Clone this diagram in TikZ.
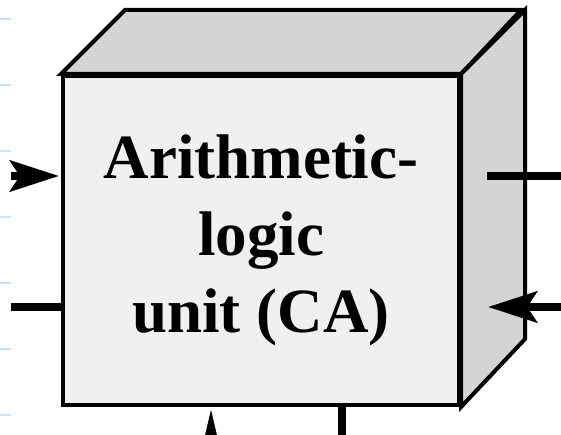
\documentclass[tikz,border=0pt]{standalone}
\usepackage{fontspec}
\setmainfont{Liberation Serif}
\usetikzlibrary{arrows.meta}
\definecolor{facelight}{gray}{0.94}
\definecolor{faceside}{gray}{0.83}
\definecolor{ruleblue}{RGB}{200,228,248}

\begin{document}
\begin{tikzpicture}[
  x=1pt, y=1pt,
  front/.style={draw, line width=4pt, line join=miter, fill=facelight,
                minimum width=396pt, minimum height=329pt, inner sep=0pt,
                align=center, font=\bfseries\fontsize{63}{77}\selectfont},
  side/.style={draw, line width=4pt, line join=miter, fill=faceside},
  conn/.style={line width=8pt},
  arr/.style={conn, -{Stealth[length=49pt, width=31pt, inset=10pt]}}
]
\useasboundingbox (0,0) rectangle (561,435);
\clip (0,0) rectangle (561,435);
% faint rules at the left edge
\foreach \y in {19,85,151,217,283,349,415}
  \draw[ruleblue, line width=2pt] (0,435-\y) -- (11,435-\y);
% the box
\node[front] (alu) at (261,194.5) {Arithmetic-\\logic\\unit (CA)};
\draw[side] (alu.north west) -- ++(64,64) -- ++(396,0) -- (alu.north east) -- cycle;
\draw[side] (alu.north east) -- ++(64,64) -- ++(0,-329) -- (alu.south east) -- cycle;
% connectors
\coordinate (inL) at (11,259);
\coordinate (outL) at (11,128);
\coordinate (outRa) at (487,259);
\coordinate (outRb) at (561,259);
\coordinate (inRa) at (561,128);
\coordinate (inRb) at (488,128);
\coordinate (inB) at (211,-30);
\coordinate (outB) at (342,-5);
\draw[arr, shorten >=2pt] (inL) -- (inL -| alu.west);
\draw[conn] (outL) -- (outL -| alu.west);
\draw[conn] (outRa) -- (outRb);
\draw[arr] (inRa) -- (inRb);
\draw[conn, -{Stealth[length=49pt, width=22pt, inset=10pt]}, shorten >=2pt]
  (inB) -- (inB |- alu.south);
\draw[conn] (outB) -- (outB |- alu.south);
\end{tikzpicture}
\end{document}
